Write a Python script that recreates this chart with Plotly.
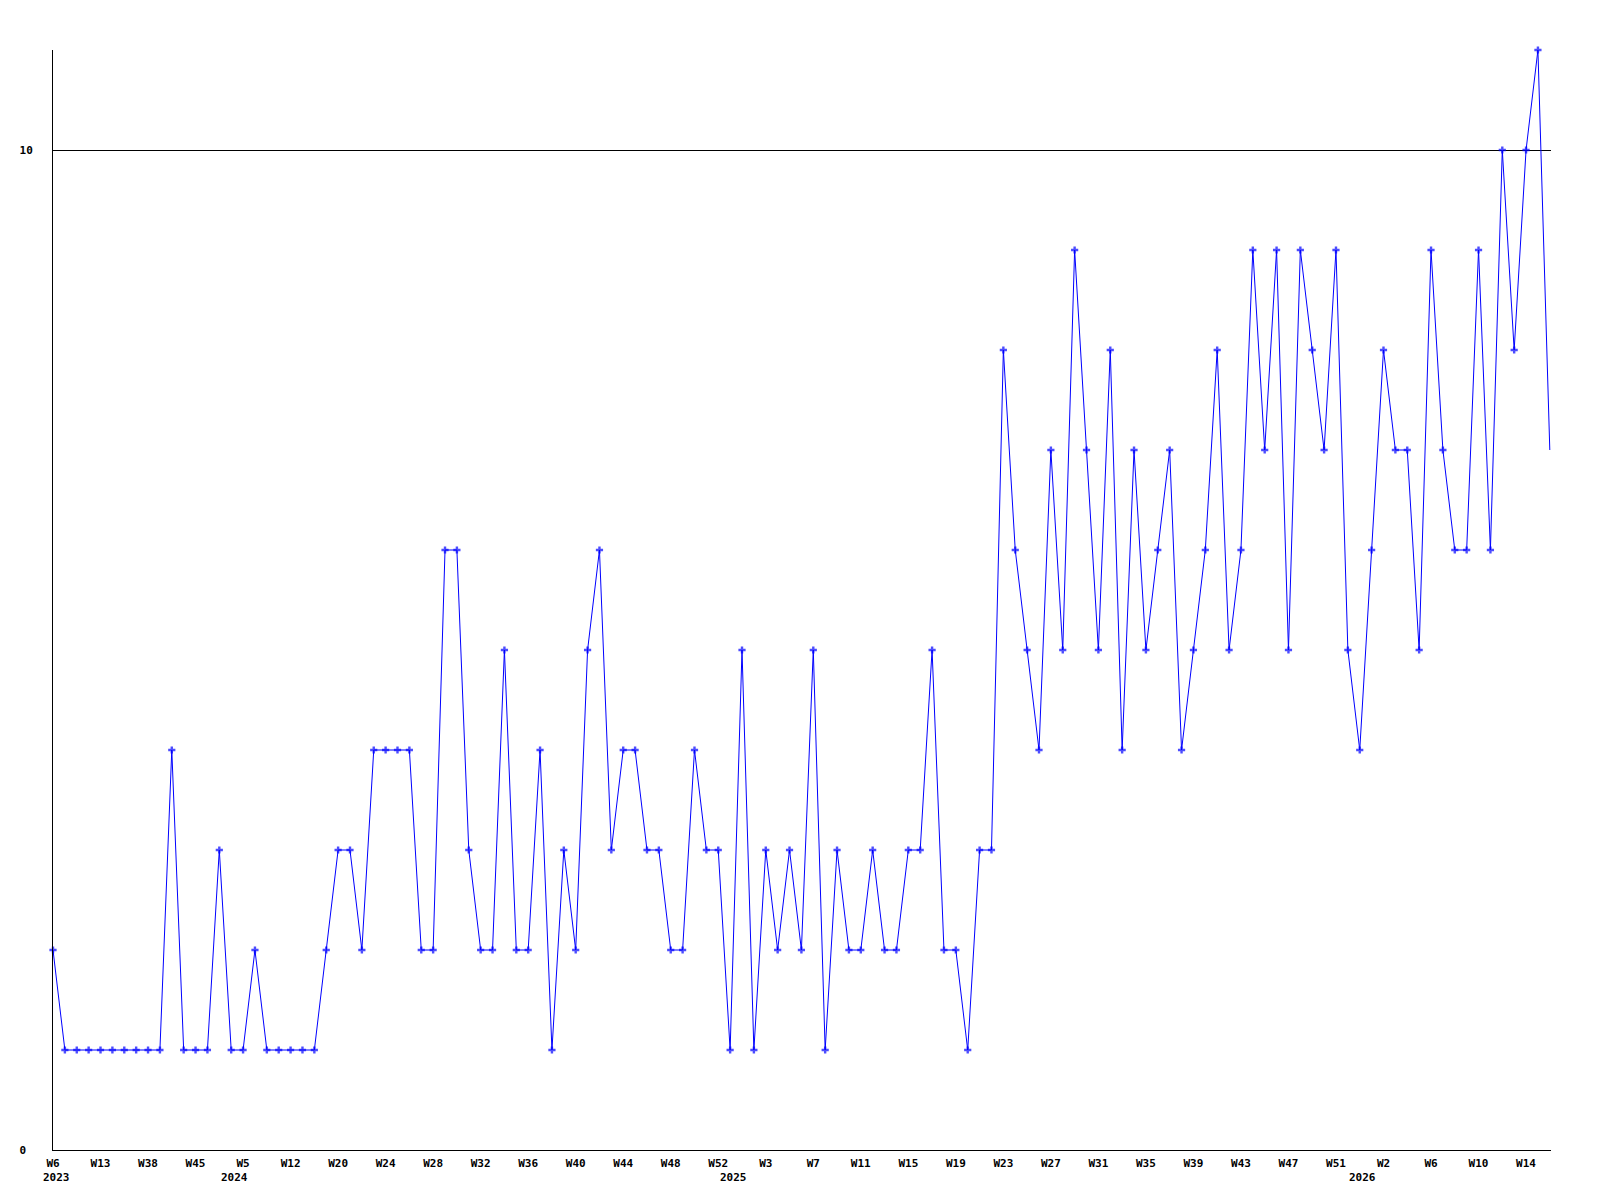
import plotly.graph_objects as go

# ---- data ----
values = [2, 1, 1, 1, 1, 1, 1, 1, 1, 1,
          4, 1, 1, 1, 3, 1, 1, 2, 1, 1,
          1, 1, 1, 2, 3, 3, 2, 4, 4, 4,
          4, 2, 2, 6, 6, 3, 2, 2, 5, 2,
          2, 4, 1, 3, 2, 5, 6, 3, 4, 4,
          3, 3, 2, 2, 4, 3, 3, 1, 5, 1,
          3, 2, 3, 2, 5, 1, 3, 2, 2, 3,
          2, 2, 3, 3, 5, 2, 2, 1, 3, 3,
          8, 6, 5, 4, 7, 5, 9, 7, 5, 8,
          4, 7, 5, 6, 7, 4, 5, 6, 8, 5,
          6, 9, 7, 9, 5, 9, 8, 7, 9, 5,
          4, 6, 8, 7, 7, 5, 9, 7, 6, 6,
          9, 6, 10, 8, 10, 11, 7]

week_labels = ["W6", "W13", "W38", "W45", "W5", "W12", "W20", "W24", "W28",
               "W32", "W36", "W40", "W44", "W48", "W52", "W3", "W7", "W11",
               "W15", "W19", "W23", "W27", "W31", "W35", "W39", "W43", "W47",
               "W51", "W2", "W6", "W10", "W14"]
label_step = 4

year_labels = ["2023", "2024", "2025", "2026"]
year_index = [0, 15, 57, 110]

y_ticks = [0, 10]
y_max = 11

# ---- figure ----
n = len(values)
x = list(range(n))
tick_index = [i * label_step for i in range(len(week_labels))]
marker_sizes = [6] * (n - 1) + [0]

font_mono = dict(family="DejaVu Sans Mono", size=11, color="black", weight="bold")

fig = go.Figure()
fig.add_trace(go.Scatter(
    x=x, y=values,
    mode="lines+markers",
    line=dict(color="#0000ff", width=1),
    marker=dict(symbol="cross", size=marker_sizes, color="#0000ff",
                line=dict(width=0)),
    cliponaxis=False,
    showlegend=False,
    hoverinfo="skip",
))

for yr, idx in zip(year_labels, year_index):
    fig.add_annotation(
        x=idx, y=0, xref="x", yref="paper",
        text=yr, showarrow=False,
        xanchor="center", yanchor="top",
        yshift=-19, xshift=3,
        font=font_mono,
    )

y_text = [str(v).ljust(2).replace(" ", "\u00a0") for v in y_ticks]

# the page body has an 8px default margin, so the figure is sized to fit
fig.update_layout(
    width=1592, height=1192,
    margin=dict(l=42, r=49, t=42, b=50, pad=0),
    paper_bgcolor="white", plot_bgcolor="white",
    font=font_mono,
    xaxis=dict(
        range=[0, n - 0.9],
        tickmode="array", tickvals=tick_index, ticktext=week_labels,
        showgrid=False, zeroline=False,
        showline=True, linecolor="black", linewidth=1,
        ticks="", ticklabelstandoff=3,
        tickfont=font_mono,
    ),
    yaxis=dict(
        range=[0, y_max],
        tickmode="array", tickvals=y_ticks, ticktext=y_text,
        showgrid=True, gridcolor="black", gridwidth=1,
        zeroline=False,
        showline=True, linecolor="black", linewidth=1,
        ticks="", ticklabelstandoff=17,
        tickfont=font_mono,
    ),
)

fig.write_html("out.html")
